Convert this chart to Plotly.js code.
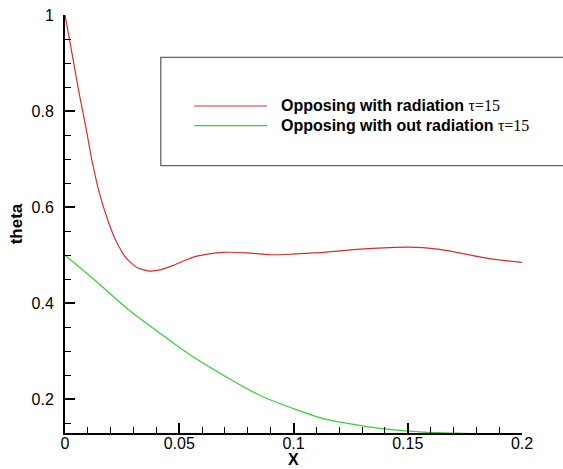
<!DOCTYPE html>
<html>
<head>
<meta charset="utf-8">
<script src="https://cdn.plot.ly/plotly-3.0.1.min.js"></script>
<style>html,body{margin:0;padding:0;background:#fff;}#chart{width:563px;height:469px;}</style>
</head>
<body>
<div id="chart"></div>
<script>
// Series: Opposing with radiation (tau=15)
const radX = [0, 0.0036, 0.0062, 0.0091, 0.0117, 0.0149, 0.0186, 0.0222, 0.0266, 0.0317, 0.0373, 0.042, 0.0475, 0.053, 0.0577, 0.063, 0.0693, 0.0796, 0.0897, 0.0985, 0.106, 0.113, 0.1276, 0.142, 0.150, 0.1567, 0.164, 0.1713, 0.1858, 0.2];
const radY = [1.0, 0.906, 0.837, 0.767, 0.700, 0.632, 0.575, 0.531, 0.495, 0.474, 0.467, 0.470, 0.479, 0.490, 0.498, 0.503, 0.506, 0.505, 0.501, 0.502, 0.504, 0.506, 0.512, 0.516, 0.517, 0.516, 0.512, 0.506, 0.493, 0.485];
// Series: Opposing without radiation (tau=15)
const noRadX = [0, 0.0126, 0.0272, 0.0417, 0.0562, 0.0708, 0.0854, 0.1021, 0.113, 0.1276, 0.142, 0.1567, 0.178, 0.19, 0.2];
const noRadY = [0.5, 0.45, 0.389, 0.337, 0.288, 0.246, 0.208, 0.177, 0.160, 0.147, 0.1375, 0.132, 0.129, 0.127, 0.126];
const seriesNames = ["Opposing with radiation", "Opposing with out radiation"];
const seriesSuffix = "τ=15";
const seriesColors = ["#e02a2a", "#33d133"];
const xTitle = "X";
const yTitle = "theta";

const traces = [
  {x: radX, y: radY, name: seriesNames[0] + " " + seriesSuffix, type: "scatter", mode: "lines",
   line: {color: seriesColors[0], width: 1.2, shape: "spline", smoothing: 0.6}, showlegend: false},
  {x: noRadX, y: noRadY, name: seriesNames[1] + " " + seriesSuffix, type: "scatter", mode: "lines",
   line: {color: seriesColors[1], width: 1.2, shape: "spline", smoothing: 0.6}, showlegend: false}
];

const L = 64.5, T = 15, W = 458, H = 418;
function px(xp) { return (xp - L) / W; }
function py(yp) { return (T + H - yp) / H; }

const legendRows = [106, 125.7];
const shapes = [
  {type: "rect", xref: "paper", yref: "paper", x0: px(160.5), x1: px(620), y0: py(165.7), y1: py(57.3),
   line: {color: "#666", width: 1.3}, fillcolor: "rgba(0,0,0,0)", layer: "above"}
];
const annotations = [];
seriesNames.forEach((n, i) => {
  shapes.push({type: "line", xref: "paper", yref: "paper", x0: px(194), x1: px(267), y0: py(legendRows[i]), y1: py(legendRows[i]),
    line: {color: seriesColors[i], width: 1.2}});
  annotations.push({xref: "paper", yref: "paper", x: px(279), y: py(legendRows[i] - 0.5), xanchor: "left", yanchor: "middle",
    showarrow: false, align: "left",
    text: "<b>" + n + "</b> <span style=\"font-family:'Liberation Serif';font-weight:normal\">" + seriesSuffix + "</span>",
    font: {family: "Liberation Sans, Arial, sans-serif", size: 16, color: "#000"}});
});
// x-axis title placed below the tick labels
annotations.push({xref: "paper", yref: "paper", x: px(293), y: py(469), xanchor: "center", yanchor: "bottom",
  showarrow: false, text: "<b>" + xTitle + "</b>", borderpad: 0,
  font: {family: "Liberation Sans, Arial, sans-serif", size: 16, color: "#000"}});

const layout = {
  width: 563, height: 469,
  margin: {l: 64.5, r: 40.5, t: 15, b: 36, pad: 0},
  paper_bgcolor: "#fff", plot_bgcolor: "#fff",
  font: {family: "Liberation Sans, Arial, sans-serif", size: 16, color: "#000"},
  showlegend: false,
  xaxis: {
    range: [0, 0.2], dtick: 0.05, tick0: 0, showgrid: false, zeroline: false,
    showline: true, linecolor: "#000", linewidth: 2, mirror: false,
    ticks: "inside", ticklen: 10, tickwidth: 2, tickcolor: "#000",
    ticklabelstandoff: -5,
    minor: {dtick: 0.01, ticks: "inside", ticklen: 6, tickwidth: 1, tickcolor: "#000", showgrid: false}
  },
  yaxis: {
    range: [0.13, 1], dtick: 0.2, tick0: 0, showgrid: false, zeroline: false,
    showline: true, linecolor: "#000", linewidth: 2, mirror: false,
    ticks: "inside", ticklen: 10, tickwidth: 2, tickcolor: "#000",
    ticklabelstandoff: 6,
    minor: {dtick: 0.05, ticks: "inside", ticklen: 6, tickwidth: 1, tickcolor: "#000", showgrid: false},
    title: {text: "<b>" + yTitle + "</b>", standoff: 5, font: {size: 17}}
  },
  shapes: shapes,
  annotations: annotations
};

Plotly.newPlot("chart", traces, layout, {displayModeBar: false, staticPlot: true});
</script>
</body>
</html>
